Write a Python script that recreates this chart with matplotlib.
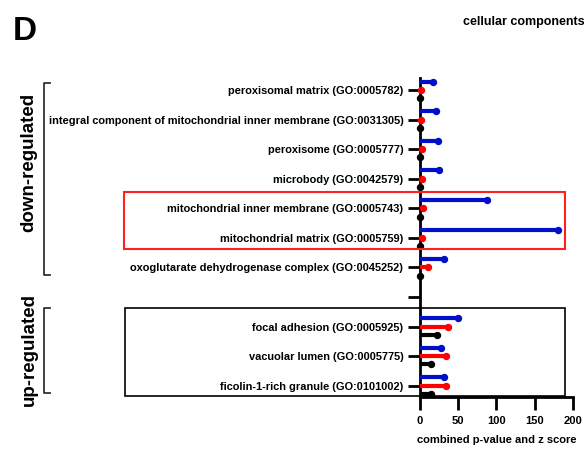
import numpy as np
import matplotlib.pyplot as plt
from matplotlib.patches import Rectangle

plt.rcParams['font.family'] = ['Liberation Sans', 'DejaVu Sans']
plt.rcParams['font.weight'] = 'bold'
plt.rcParams['axes.labelweight'] = 'bold'

terms = ["peroxisomal matrix (GO:0005782)",
         "integral component of mitochondrial inner membrane (GO:0031305)",
         "peroxisome (GO:0005777)",
         "microbody (GO:0042579)",
         "mitochondrial inner membrane (GO:0005743)",
         "mitochondrial matrix (GO:0005759)",
         "oxoglutarate dehydrogenase complex (GO:0045252)",
         "",
         "focal adhesion (GO:0005925)",
         "vacuolar lumen (GO:0005775)",
         "ficolin-1-rich granule (GO:0101002)"]
blue_vals = [17.5, 20.5, 23, 25, 87, 181, 31, 0, 50, 28, 31]
red_vals = [1, 1, 2, 2, 4, 3, 11, 0, 36, 34, 34]
black_vals = [0, 0, 0, 0, 0, 0, 0, 0, 22, 15, 15]
present = [True] * 7 + [False] + [True] * 3

fig = plt.figure(figsize=(5.87, 4.54), dpi=100)
ax = fig.add_axes([0.7155, 0.1256, 0.2605, 0.7024])

y = np.arange(len(terms))
off = 0.28
for vals, dy, col in [(blue_vals, -off, '#0010c8'), (red_vals, 0, '#ff0000'), (black_vals, off, '#000000')]:
    for yi, v, p in zip(y, vals, present):
        if not p:
            continue
        ax.plot([0, v], [yi + dy, yi + dy], color=col, lw=3.0, solid_capstyle='butt', zorder=3)
        ax.plot([v], [yi + dy], 'o', color=col, ms=4.3, zorder=4, clip_on=False)

ax.set_xlim(0, 200)
ax.set_ylim(10.38, -0.4)
ax.set_xticks([0, 50, 100, 150, 200])
ax.set_yticks(y)
ax.set_yticklabels(terms, fontsize=7.9)
ax.tick_params(axis='x', labelsize=8, width=2, length=9, pad=5)
ax.tick_params(axis='y', width=2, length=9, pad=3)
for s in ['top', 'right']:
    ax.spines[s].set_visible(False)
for s in ['left', 'bottom']:
    ax.spines[s].set_linewidth(2)
ax.set_xlabel("combined p-value and z score", fontsize=8, labelpad=6)

# boxes and brackets in figure pixels
W, H = 587, 454
def fx(px):
    return px / W
def fy(py):
    return 1 - py / H

fig.patches.append(Rectangle((fx(124), fy(249)), fx(565) - fx(124), fy(192) - fy(249),
                             transform=fig.transFigure, fill=False, ec='#ff2020', lw=1.5))
fig.patches.append(Rectangle((fx(125), fy(396)), fx(565) - fx(125), fy(308) - fy(396),
                             transform=fig.transFigure, fill=False, ec='black', lw=1.2))

for top, bot in [(83, 275), (308, 393)]:
    fig.add_artist(plt.Line2D([fx(50), fx(44), fx(44), fx(50)], [fy(top), fy(top), fy(bot), fy(bot)],
                              transform=fig.transFigure, color='#333333', lw=1.3))

fig.text(fx(29), fy(162), "down-regulated", rotation=90, ha='center', va='center', fontsize=13.5)
fig.text(fx(29), fy(350), "up-regulated", rotation=90, ha='center', va='center', fontsize=13.5)
fig.text(fx(13), fy(31), "D", fontsize=24, ha='left', va='center')
fig.text(fx(585), fy(22), "cellular components", fontsize=9, ha='right', va='center')

fig.savefig("out.png", dpi=100)
